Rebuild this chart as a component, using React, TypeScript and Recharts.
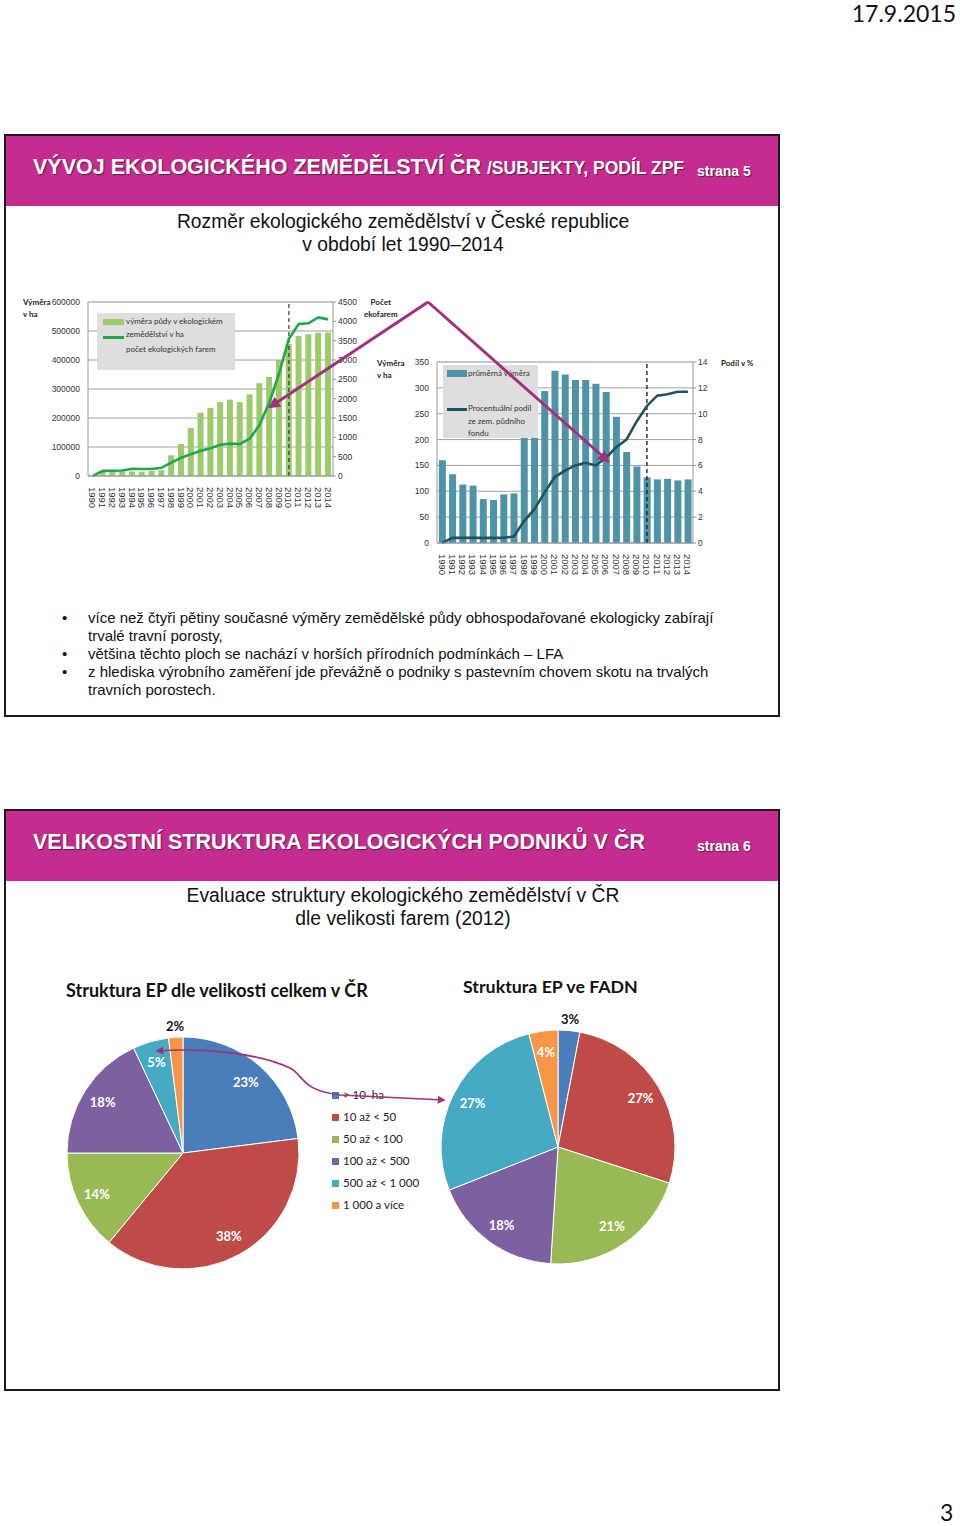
import React from "react";
import {
  ComposedChart, Bar, Line, XAxis, YAxis, CartesianGrid, ReferenceLine,
  PieChart, Pie, Cell,
} from "recharts";

const YEARS = [
  "1990", "1991", "1992", "1993", "1994", "1995", "1996", "1997", "1998", "1999",
  "2000", "2001", "2002", "2003", "2004", "2005", "2006", "2007", "2008", "2009",
  "2010", "2011", "2012", "2013", "2014",
];
// výměra půdy v ekologickém zemědělství (ha)
const AREA_HA = [
  480, 17500, 15400, 15700, 15800, 15000, 17000, 20200, 71600, 110800,
  165700, 218100, 235100, 255000, 263300, 255000, 281500, 320000, 341600, 400000,
  455000, 482900, 488700, 493900, 494700,
];
// počet ekologických farem
const FARMS = [
  3, 132, 135, 141, 187, 181, 182, 211, 348, 473,
  563, 654, 717, 810, 836, 829, 963, 1318, 1900, 2650,
  3550, 3930, 3950, 4100, 4050,
];
// průměrná výměra (ha)
const AVG_AREA = [
  160, 133, 113, 111, 85, 83, 94, 96, 206, 234,
  294, 333, 326, 315, 315, 308, 292, 244, 176, 148,
  127, 123, 124, 121, 123,
];
// procentuální podíl ze zem. půdního fondu (%)
const SHARE_PCT = [
  0, 0.4, 0.4, 0.4, 0.4, 0.4, 0.4, 0.5, 1.7, 2.6,
  3.9, 5.1, 5.6, 6.0, 6.2, 6.0, 6.6, 7.4, 8.0, 9.4,
  10.6, 11.4, 11.5, 11.7, 11.7,
];

const AREA_TICKS = [0, 100000, 200000, 300000, 400000, 500000, 600000];
const FARM_TICKS = [0, 500, 1000, 1500, 2000, 2500, 3000, 3500, 4000, 4500];
const AVG_TICKS = [0, 50, 100, 150, 200, 250, 300, 350];
const SHARE_TICKS = [0, 2, 4, 6, 8, 10, 12, 14];

const SIZE_CLASSES = ["> 10  ha", "10 až < 50", "50 až < 100", "100 až < 500", "500 až < 1 000", "1 000 a více"];
const TOTAL_PCT = [23, 38, 14, 18, 5, 2];
const FADN_PCT = [3, 27, 21, 18, 27, 4];
const PIE_COLORS = ["#4A7EBB", "#BE4B48", "#98B954", "#7D60A0", "#46AAC5", "#F79646"];

const ARIAL = "'Liberation Sans', Arial, sans-serif";
const CALIBRI = "Lato, 'Open Sans', sans-serif";

const areaData = YEARS.map((y, i) => ({ year: y, area: AREA_HA[i], farms: FARMS[i] }));
const avgData = YEARS.map((y, i) => ({ year: y, avg: AVG_AREA[i], share: SHARE_PCT[i] }));
const totalData = SIZE_CLASSES.map((n, i) => ({ name: n, value: TOTAL_PCT[i] }));
const fadnData = SIZE_CLASSES.map((n, i) => ({ name: n, value: FADN_PCT[i] }));

// light minor grid lines behind the charts
const minorArea = Array.from({ length: 31 }, (_, i) => i * 20000);
const minorAvg = Array.from({ length: 36 }, (_, i) => i * 10);

const tickStyle = { fontSize: 8.5, fill: "#333", fontFamily: ARIAL };

const YearTick = ({ x, y, payload }: any) => (
  <text
    x={x}
    y={y + 3}
    transform={`rotate(90 ${x} ${y + 3})`}
    fontSize={9.5}
    fill="#333"
    fontFamily={ARIAL}
    textAnchor="start"
    dominantBaseline="central"
  >
    {payload.value}
  </text>
);

const PieLabel = ({ cx, cy, midAngle, outerRadius, value }: any) => {
  const outside = value <= 3;
  const r = outerRadius * (outside ? 1.1 : 0.82);
  const rad = Math.PI / 180;
  const x = cx + r * Math.cos(-midAngle * rad);
  const y = cy + r * Math.sin(-midAngle * rad);
  return (
    <text
      x={x}
      y={y}
      fill={outside ? "#111" : "#fff"}
      textAnchor="middle"
      dominantBaseline="central"
      fontSize={13}
      fontWeight={700}
      fontFamily={CALIBRI}
    >
      {value}%
    </text>
  );
};

const Header = ({ top, children }: any) => (
  <div style={{
    position: "absolute", left: 6, top, width: 772, height: 70,
    background: "#C42C8F",
  }}>
    {children}
  </div>
);

const headText = {
  position: "absolute" as const, color: "#fff", fontFamily: ARIAL, fontWeight: 700,
  textShadow: "1px 1px 1px #5a2046", whiteSpace: "nowrap" as const,
};

const Slide = ({ top, height }: any) => (
  <div style={{
    position: "absolute", left: 4, top, width: 772, height,
    border: "2px solid #1a1a1a", background: "#fff",
  }} />
);

const smallBold = {
  position: "absolute" as const, fontSize: 8, fontWeight: 700, fontFamily: CALIBRI,
  color: "#222", lineHeight: "12px", whiteSpace: "nowrap" as const,
};

const legendText = {
  position: "absolute" as const, fontSize: 8, fontFamily: CALIBRI, color: "#333",
  lineHeight: "12.5px", whiteSpace: "nowrap" as const,
};

export default function App() {
  return (
    <div style={{ position: "absolute", left: 0, top: 0, width: 960, height: 1526, background: "#fff", overflow: "hidden" }}>
      <div style={{ position: "absolute", right: 4, top: -1, fontSize: 23, fontFamily: CALIBRI, color: "#111" }}>17.9.2015</div>
      <div style={{ position: "absolute", left: 940, top: 1498, fontSize: 23, fontFamily: CALIBRI, color: "#111" }}>3</div>

      {/* ---------- slide 5 ---------- */}
      <Slide top={134} height={579} />
      <Header top={136}>
        <div style={{ ...headText, left: 27, top: 19, fontSize: 21.5 }}>
          VÝVOJ EKOLOGICKÉHO ZEMĚDĚLSTVÍ ČR <span style={{ fontSize: 17.5 }}>/SUBJEKTY, PODÍL ZPF</span>
        </div>
        <div style={{ ...headText, left: 691, top: 27, fontSize: 14 }}>strana 5</div>
      </Header>
      <div style={{ position: "absolute", left: 17, width: 772, top: 210, textAlign: "center", fontFamily: ARIAL, fontSize: 19.3, lineHeight: "23px", color: "#111" }}>
        Rozměr ekologického zemědělství v České republice<br />v období let 1990–2014
      </div>

      {/* chart: výměra + počet farem */}
      <div style={{ ...smallBold, left: 23, top: 296 }}>Výměra<br />v ha</div>
      <div style={{ ...smallBold, left: 364, top: 296, textAlign: "center" }}>Počet<br />ekofarem</div>
      <div style={{ position: "absolute", left: 20, top: 295 }}>
        <ComposedChart width={360} height={230} data={areaData} margin={{ top: 7, right: 7, bottom: 19, left: 28 }} barCategoryGap="18%">
          <CartesianGrid yAxisId="minor" vertical={false} stroke="#dcdcdc" />
          <CartesianGrid yAxisId="area" vertical={false} stroke="#a0a0a0" />
          <XAxis dataKey="year" interval={0} tick={<YearTick />} tickLine={false} axisLine={{ stroke: "#999" }} height={30} />
          <YAxis yAxisId="area" domain={[0, 600000]} ticks={AREA_TICKS} tick={tickStyle} width={40} axisLine={{ stroke: "#999" }} tickLine={false} />
          <YAxis yAxisId="minor" domain={[0, 600000]} ticks={minorArea} tick={false} axisLine={false} tickLine={false} width={0} />
          <YAxis yAxisId="farms" orientation="right" domain={[0, 4500]} ticks={FARM_TICKS} tick={tickStyle} width={40} axisLine={{ stroke: "#999" }} tickLine={{ stroke: "#999" }} tickSize={3} />
          <Bar yAxisId="area" dataKey="area" fill="#9DCB6B" isAnimationActive={false} />
          <ReferenceLine yAxisId="area" x="2010" stroke="#333" strokeDasharray="4 3" strokeWidth={1.2} />
          <Line yAxisId="farms" dataKey="farms" stroke="#1FA84B" strokeWidth={2.6} dot={false} type="linear" isAnimationActive={false} />
        </ComposedChart>
      </div>
      <div style={{ position: "absolute", left: 97, top: 313, width: 138, height: 57, background: "#dedede" }}>
        <div style={{ position: "absolute", left: 6, top: 6, width: 21, height: 6, background: "#9DCB6B" }} />
        <div style={{ position: "absolute", left: 6, top: 23, width: 21, height: 3, background: "#1FA84B" }} />
        <div style={{ ...legendText, left: 29, top: 2 }}>výměra půdy v ekologickém<br />zemědělství v ha</div>
        <div style={{ ...legendText, left: 29, top: 30 }}>počet ekologických farem</div>
      </div>

      {/* chart: průměrná výměra + podíl */}
      <div style={{ ...smallBold, left: 377, top: 357 }}>Výměra<br />v ha</div>
      <div style={{ ...smallBold, left: 721, top: 357 }}>Podíl v %</div>
      <div style={{ position: "absolute", left: 380, top: 355 }}>
        <ComposedChart width={380} height={230} data={avgData} margin={{ top: 7, right: 37, bottom: 12, left: 27 }} barCategoryGap="18%">
          <CartesianGrid yAxisId="minor" vertical={false} stroke="#dcdcdc" />
          <CartesianGrid yAxisId="avg" vertical={false} stroke="#a0a0a0" />
          <XAxis dataKey="year" interval={0} tick={<YearTick />} tickLine={false} axisLine={{ stroke: "#999" }} height={30} />
          <YAxis yAxisId="avg" domain={[0, 350]} ticks={AVG_TICKS} tick={tickStyle} width={30} axisLine={{ stroke: "#999" }} tickLine={false} />
          <YAxis yAxisId="minor" domain={[0, 350]} ticks={minorAvg} tick={false} axisLine={false} tickLine={false} width={0} />
          <YAxis yAxisId="share" orientation="right" domain={[0, 14]} ticks={SHARE_TICKS} tick={tickStyle} width={30} axisLine={{ stroke: "#999" }} tickLine={{ stroke: "#999" }} tickSize={3} />
          <Bar yAxisId="avg" dataKey="avg" fill="#4F93A7" isAnimationActive={false} />
          <ReferenceLine yAxisId="avg" x="2010" stroke="#222" strokeDasharray="4 3" strokeWidth={1.4} />
          <Line yAxisId="share" dataKey="share" stroke="#1D5262" strokeWidth={2.6} dot={false} type="linear" isAnimationActive={false} />
        </ComposedChart>
      </div>
      <div style={{ position: "absolute", left: 443, top: 365, width: 95, height: 73, background: "#dedede" }}>
        <div style={{ position: "absolute", left: 4, top: 5, width: 20, height: 7, background: "#4F93A7" }} />
        <div style={{ position: "absolute", left: 4, top: 43, width: 20, height: 3, background: "#1D5262" }} />
        <div style={{ ...legendText, left: 25, top: 2 }}>průměrná výměra</div>
        <div style={{ ...legendText, left: 25, top: 37 }}>Procentuální podíl<br />ze zem. půdního<br />fondu</div>
      </div>

      {/* bullets */}
      <div style={{ position: "absolute", left: 62, top: 609, fontFamily: ARIAL, fontSize: 15, lineHeight: "18px", color: "#111" }}>
        {[
          ["více než čtyři pětiny současné výměry zemědělské půdy obhospodařované ekologicky zabírají", "trvalé travní porosty,"],
          ["většina těchto ploch se nachází v horších přírodních podmínkách – LFA"],
          ["z hlediska výrobního zaměření jde převážně o podniky s pastevním chovem skotu na trvalých", "travních porostech."],
        ].map((lines, i) => (
          <div key={i} style={{ position: "relative", paddingLeft: 26 }}>
            <span style={{ position: "absolute", left: 0 }}>•</span>
            {lines.map((l, j) => <div key={j} style={{ whiteSpace: "nowrap" }}>{l}</div>)}
          </div>
        ))}
      </div>

      {/* ---------- slide 6 ---------- */}
      <Slide top={809} height={578} />
      <Header top={811}>
        <div style={{ ...headText, left: 27, top: 19, fontSize: 21.5 }}>
          VELIKOSTNÍ STRUKTURA EKOLOGICKÝCH PODNIKŮ V ČR
        </div>
        <div style={{ ...headText, left: 691, top: 27, fontSize: 14 }}>strana 6</div>
      </Header>
      <div style={{ position: "absolute", left: 17, width: 772, top: 884, textAlign: "center", fontFamily: ARIAL, fontSize: 19.3, lineHeight: "23px", color: "#111" }}>
        Evaluace struktury ekologického zemědělství v ČR<br />dle velikosti farem (2012)
      </div>
      <div style={{ position: "absolute", left: 66, top: 979, fontFamily: CALIBRI, fontWeight: 700, fontSize: 18, color: "#111", whiteSpace: "nowrap" }}>
        Struktura EP dle velikosti celkem v ČR
      </div>
      <div style={{ position: "absolute", left: 463, top: 975, fontFamily: CALIBRI, fontWeight: 700, fontSize: 17.8, color: "#111", whiteSpace: "nowrap" }}>
        Struktura EP ve FADN
      </div>

      <div style={{ position: "absolute", left: 40, top: 1010 }}>
        <PieChart width={290} height={280}>
          <Pie data={totalData} dataKey="value" cx={138} cy={138} outerRadius={116} startAngle={90} endAngle={-270}
            stroke="#fff" strokeWidth={1} label={<PieLabel />} labelLine={false} isAnimationActive={false}>
            {totalData.map((d, i) => <Cell key={d.name} fill={PIE_COLORS[i]} />)}
          </Pie>
        </PieChart>
      </div>
      <div style={{ position: "absolute", left: 420, top: 1010 }}>
        <PieChart width={280} height={280}>
          <Pie data={fadnData} dataKey="value" cx={133} cy={132} outerRadius={117} startAngle={90} endAngle={-270}
            stroke="#fff" strokeWidth={1} label={<PieLabel />} labelLine={false} isAnimationActive={false}>
            {fadnData.map((d, i) => <Cell key={d.name} fill={PIE_COLORS[i]} />)}
          </Pie>
        </PieChart>
      </div>

      <div style={{ position: "absolute", left: 332, top: 1088, fontFamily: CALIBRI, fontSize: 11.5, color: "#222" }}>
        {SIZE_CLASSES.map((n, i) => (
          <div key={n} style={{ height: 22, display: "flex", alignItems: "flex-start", whiteSpace: "pre" }}>
            <span style={{ display: "inline-block", width: 7, height: 7, background: PIE_COLORS[i], marginTop: 4, marginRight: 4 }} />
            {n}
          </div>
        ))}
      </div>

      {/* arrows */}
      <svg width={960} height={1526} style={{ position: "absolute", left: 0, top: 0, pointerEvents: "none" }}>
        <defs>
          <marker id="ah" viewBox="0 0 10 10" refX="8" refY="5" markerWidth="4" markerHeight="4" orient="auto-start-reverse">
            <path d="M0,0 L10,5 L0,10 z" fill="#A2307F" />
          </marker>
          <marker id="ah2" viewBox="0 0 10 10" refX="8" refY="5" markerWidth="5" markerHeight="5" orient="auto-start-reverse">
            <path d="M0,0 L10,5 L0,10 z" fill="#A2307F" />
          </marker>
        </defs>
        <line x1={428} y1={302} x2={270} y2={407} stroke="#A2307F" strokeWidth={3} markerEnd="url(#ah)" />
        <line x1={428} y1={302} x2={608} y2={461} stroke="#A2307F" strokeWidth={3} markerEnd="url(#ah)" />
        <path d="M157,1051 C200,1048 255,1052 290,1068 C305,1076 300,1090 340,1095 L444,1100"
          fill="none" stroke="#A2307F" strokeWidth={1.6} markerStart="url(#ah2)" markerEnd="url(#ah2)" />
      </svg>
    </div>
  );
}
